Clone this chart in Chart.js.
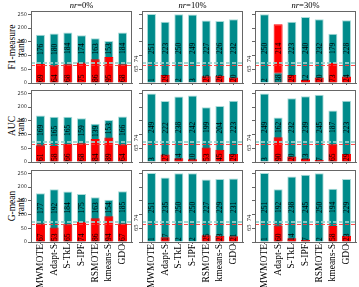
<!DOCTYPE html>
<html>
<head>
<meta charset="utf-8">
<script src="https://cdn.jsdelivr.net/npm/chart.js@4/dist/chart.umd.min.js"></script>
<style>
  body { margin: 0; width: 359px; height: 287px; background: #fff; position: relative; overflow: hidden; font-family: "Liberation Serif", serif; }
  canvas { position: absolute; }
  .coltitle { position: absolute; top: 0; font-size: 8.5px; text-align: center; color: #000; transform: translateZ(0); }
  .rowtitle { position: absolute; width: 90px; height: 18px; line-height: 9px; font-size: 9.5px; text-align: center; transform: rotate(-90deg); color: #000; }
</style>
</head>
<body>
<script>
const methods = ["MWMOTE", "Adapt-S", "S-TkL", "S-IPF", "RSMOTE", "kmeans-S", "GDO"];
const noiseRates = ["0%", "10%", "30%"];
const metrics = ["F1-measure", "AUC", "G-mean"];
const yTicks = [0, 50, 100, 150, 200, 250];
const refLines = [74, 65];

// teal = first count, red = second count, one row per noise rate
const f1Teal = [
  [176, 180, 184, 174, 163, 153, 184],
  [251, 223, 250, 249, 227, 226, 232],
  [250, 38, 223, 240, 232, 179, 228]
];
const f1Red = [
  [69, 64, 68, 75, 86, 95, 68],
  [1, 29, 2, 3, 25, 26, 20],
  [2, 214, 29, 12, 20, 73, 24]
];
const aucTeal = [
  [169, 165, 165, 159, 139, 153, 166],
  [249, 222, 238, 242, 199, 204, 223],
  [249, 162, 232, 239, 245, 187, 223]
];
const aucRed = [
  [61, 58, 66, 68, 84, 89, 64],
  [3, 27, 14, 10, 53, 45, 29],
  [3, 90, 20, 13, 7, 65, 29]
];
const gmeanTeal = [
  [177, 192, 184, 175, 163, 154, 185],
  [251, 235, 250, 250, 227, 229, 231],
  [251, 192, 238, 245, 250, 194, 229]
];
const gmeanRed = [
  [67, 53, 65, 74, 86, 94, 67],
  [1, 17, 2, 2, 25, 23, 21],
  [1, 60, 14, 7, 2, 58, 23]
];

const tealValues = [f1Teal, aucTeal, gmeanTeal];
const redValues = [f1Red, aucRed, gmeanRed];

const TEAL = "#008b8b";
const TEAL_EDGE = "#a9dcd9";
const RED = "#ff0000";

const colLeft = [31, 142, 255];
const rowBottom = [83, 162, 242];
const plotW = 101, plotH = 72, AX = 30;
const yMax = 262;

// column and row titles
noiseRates.forEach((nr, c) => {
  const d = document.createElement("div");
  d.className = "coltitle";
  d.style.left = colLeft[c] + "px";
  d.style.width = plotW + "px";
  d.innerHTML = "<i>nr</i>=" + nr;
  document.body.appendChild(d);
});
metrics.forEach((m, r) => {
  const d = document.createElement("div");
  d.className = "rowtitle";
  d.style.left = (17 - 45) + "px";
  d.style.top = (rowBottom[r] - plotH / 2 - 9) + "px";
  d.innerHTML = m + "<br>rank";
  document.body.appendChild(d);
});

const panelPlugin = {
  id: "panelExtras",
  afterDatasetsDraw(chart) {
    const { ctx, chartArea, scales: { y } } = chart;
    const col = chart.options.plugins.panelExtras.col;
    ctx.save();
    // reference lines
    ctx.setLineDash([4, 2]);
    ctx.lineWidth = 2;
    ctx.strokeStyle = "rgba(150,210,205,0.85)";
    let py = Math.round(y.getPixelForValue(refLines[0]));
    ctx.beginPath(); ctx.moveTo(chartArea.left, py); ctx.lineTo(chartArea.right, py); ctx.stroke();
    ctx.lineWidth = 1;
    ctx.strokeStyle = "rgba(255,60,60,0.9)";
    py = Math.round(y.getPixelForValue(refLines[1])) + 0.5;
    ctx.beginPath(); ctx.moveTo(chartArea.left, py); ctx.lineTo(chartArea.right, py); ctx.stroke();
    ctx.setLineDash([]);

    // value labels
    const front = chart.getDatasetMeta(0), back = chart.getDatasetMeta(1);
    const fd = chart.data.datasets[0].data, bd = chart.data.datasets[1].data;
    const base = y.getPixelForValue(0);
    ctx.fillStyle = "#000";
    ctx.font = '7.5px "Liberation Serif"';
    ctx.textBaseline = "middle";
    front.data.forEach((bar, i) => {
      ctx.save();
      ctx.translate(bar.x + 0.5, base - 1);
      ctx.rotate(-Math.PI / 2);
      ctx.textAlign = "left";
      ctx.fillText(String(fd[i].y), 0, 0);
      ctx.restore();
      const cy = (bar.y + back.data[i].y) / 2;
      ctx.save();
      ctx.translate(bar.x + 0.5, cy);
      ctx.rotate(-Math.PI / 2);
      ctx.textAlign = "center";
      ctx.fillText(String(bd[i].y), 0, 0);
      ctx.restore();
    });

    // frame
    ctx.strokeStyle = "#666";
    ctx.lineWidth = 1;
    ctx.strokeRect(chartArea.left + 0.5, chartArea.top + 0.5, chartArea.width - 1, chartArea.height);

    // reference labels on the unlabelled axes
    if (col > 0) {
      ctx.fillStyle = "#222";
      ctx.font = '6.5px "Liberation Serif"';
      ctx.save();
      ctx.translate(chartArea.left - 6, y.getPixelForValue(refLines[0]));
      ctx.rotate(-Math.PI / 2);
      ctx.textAlign = "left";
      ctx.fillText(String(refLines[0]), 0.5, 0);
      ctx.restore();
      ctx.save();
      ctx.translate(chartArea.left - 6, y.getPixelForValue(refLines[1]) + 0.5);
      ctx.rotate(-Math.PI / 2);
      ctx.textAlign = "center";
      ctx.fillText(String(refLines[1]), -3, 0);
      ctx.restore();
    }
    ctx.restore();
  }
};

function makePanel(r, c) {
  const teal = tealValues[r][c], red = redValues[r][c];
  const front = [], back = [];
  const frontColor = [], backColor = [], frontEdge = [], backEdge = [];
  methods.forEach((m, i) => {
    const tealBehind = teal[i] >= red[i];
    back.push({ x: i, y: Math.max(teal[i], red[i]) });
    front.push({ x: i, y: Math.min(teal[i], red[i]) });
    backColor.push(tealBehind ? TEAL : RED);
    frontColor.push(tealBehind ? RED : TEAL);
    backEdge.push(tealBehind ? TEAL_EDGE : RED);
    frontEdge.push(tealBehind ? RED : TEAL_EDGE);
  });

  const bottom = r === 2 ? 45 : 4;
  const canvas = document.createElement("canvas");
  canvas.width = AX + plotW + 3;
  canvas.height = 2 + plotH + bottom;
  canvas.style.left = (colLeft[c] - AX) + "px";
  canvas.style.top = (rowBottom[r] - plotH - 2) + "px";
  document.body.appendChild(canvas);

  new Chart(canvas, {
    type: "bar",
    data: {
      datasets: [
        { data: front, backgroundColor: frontColor, borderColor: frontEdge, borderWidth: 1, grouped: false, barPercentage: 0.66, categoryPercentage: 1 },
        { data: back, backgroundColor: backColor, borderColor: backEdge, borderWidth: 1, grouped: false, barPercentage: 0.66, categoryPercentage: 1 }
      ]
    },
    options: {
      responsive: false,
      animation: false,
      devicePixelRatio: 1,
      layout: { padding: { left: 0, top: 2, right: 3, bottom: 0 } },
      plugins: { legend: { display: false }, tooltip: { enabled: false }, panelExtras: { col: c } },
      scales: {
        x: {
          type: "linear",
          min: -0.69,
          max: 6.69,
          offset: false,
          grid: { offset: false, drawOnChartArea: false, tickLength: 2, color: "#666" },
          border: { display: true, color: "#666" },
          afterBuildTicks: s => { s.ticks = methods.map((m, i) => ({ value: i })); },
          ticks: {
            autoSkip: false,
            minRotation: 90,
            maxRotation: 90,
            padding: 0,
            color: "#000",
            font: { family: "Liberation Serif", size: 9.5 },
            callback: v => (r === 2 ? methods[v] : "")
          },
          afterFit: s => { s.height = bottom; s.paddingLeft = 0; s.paddingRight = 0; }
        },
        y: {
          min: 0,
          max: yMax,
          grid: { drawOnChartArea: false, tickLength: 3, color: "#666" },
          border: { display: true, color: "#666" },
          afterBuildTicks: s => { s.ticks = yTicks.map(v => ({ value: v })); },
          ticks: {
            padding: 1,
            color: "#333",
            font: { family: "DejaVu Sans", size: 5 },
            callback: v => (c === 0 ? String(v) : "")
          },
          afterFit: s => { s.width = AX; s.paddingTop = 0; s.paddingBottom = 0; }
        }
      }
    },
    plugins: [panelPlugin]
  });
}

metrics.forEach((m, r) => {
  noiseRates.forEach((nr, c) => makePanel(r, c));
});
</script>
</body>
</html>
